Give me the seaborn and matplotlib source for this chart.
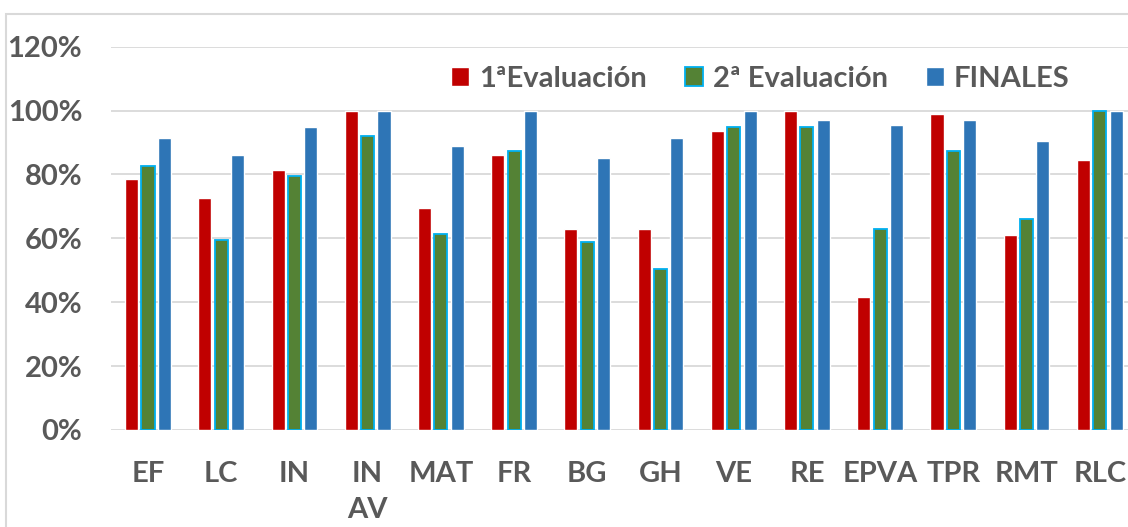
import pandas as pd
import matplotlib.pyplot as plt
import seaborn as sns
from matplotlib.patches import Patch, Rectangle
from matplotlib.ticker import PercentFormatter

# Datos
asignaturas = ["EF", "LC", "IN", "IN\nAV", "MAT", "FR", "BG", "GH", "VE", "RE", "EPVA", "TPR", "RMT", "RLC"]
primera = [0.785, 0.725, 0.815, 1.00, 0.695, 0.86, 0.63, 0.63, 0.935, 1.00, 0.415, 0.99, 0.61, 0.845]
segunda = [0.825, 0.595, 0.795, 0.92, 0.615, 0.875, 0.59, 0.505, 0.95, 0.95, 0.63, 0.875, 0.66, 1.00]
finales = [0.915, 0.86, 0.95, 1.00, 0.89, 1.00, 0.85, 0.915, 1.00, 0.97, 0.955, 0.97, 0.905, 1.00]
series = ["1ªEvaluación", "2ª Evaluación", "FINALES"]
colores = ["#C00000", "#548235", "#2E75B6"]

df = pd.DataFrame({
    "asignatura": asignaturas * 3,
    "valor": primera + segunda + finales,
    "serie": [s for s in series for _ in asignaturas],
})

sns.set_style("white")
plt.rcParams['font.family'] = ['Lato', 'DejaVu Sans']
texto = "#595959"

fig = plt.figure(figsize=(11.28, 5.27), dpi=100)
ax = fig.add_axes([111.4 / 1128, 97 / 527, 1025 / 1128, 383.3 / 527])

sns.barplot(data=df, x="asignatura", y="valor", hue="serie", order=asignaturas,
            hue_order=series, palette=dict(zip(series, colores)), saturation=1,
            width=0.67, gap=0.2, legend=False, ax=ax)

# borde cian en la segunda evaluación
for barra in ax.containers[1]:
    barra.set_edgecolor("#00B0F0")
    barra.set_linewidth(1.3)

ax.set_ylim(0, 1.2)
ax.set_xlim(-0.5, len(asignaturas) - 0.5)
ax.set_yticks([0, 0.2, 0.4, 0.6, 0.8, 1.0, 1.2])
ax.yaxis.set_major_formatter(PercentFormatter(1.0, decimals=0))
ax.yaxis.grid(True, color="#D9D9D9", lw=1.3)
ax.set_axisbelow(True)
for s in ax.spines.values():
    s.set_visible(False)
ax.set_xlabel("")
ax.set_ylabel("")
ax.tick_params(axis="y", length=0, pad=21, labelsize=21, labelcolor=texto)
ax.tick_params(axis="x", length=0, pad=22, labelsize=21, labelcolor=texto)
for t in ax.get_yticklabels():
    t.set_fontweight("bold")
for t in ax.get_xticklabels():
    t.set_fontweight("bold")
    t.set_linespacing(1.5)
    t.set_verticalalignment("top")

handles = [Patch(facecolor=colores[0]),
           Patch(facecolor=colores[1], edgecolor="#00B0F0", lw=1.3),
           Patch(facecolor=colores[2])]
leg = ax.legend(handles, series, loc="center", bbox_to_anchor=(0.633, 0.916), ncol=3,
                frameon=False, handlelength=0.62, handleheight=0.62, handletextpad=0.35,
                columnspacing=1.3, prop={"size": 21, "weight": "bold"})
for t in leg.get_texts():
    t.set_color(texto)

# marco del gráfico
fig.add_artist(Rectangle((5.5 / 1128, -0.1), 2, 1.1 - 13.5 / 527, transform=fig.transFigure,
                         fill=False, edgecolor="#D9D9D9", lw=1.5))

fig.savefig("out.png", dpi=100)
